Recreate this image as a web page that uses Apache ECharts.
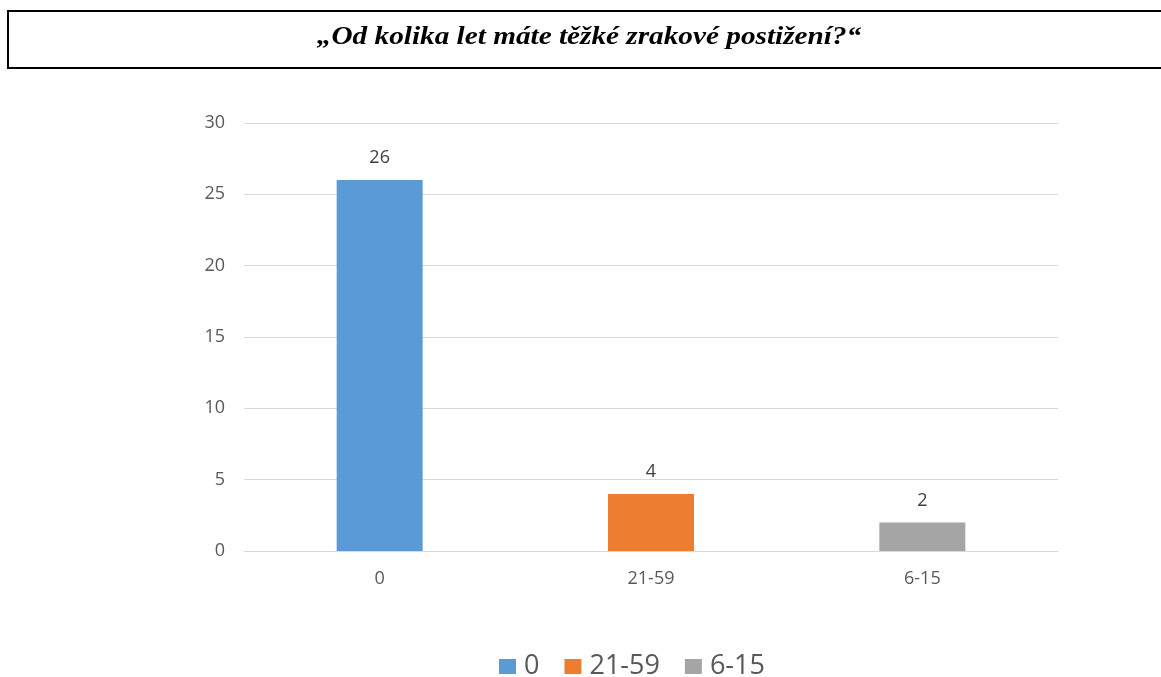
<!DOCTYPE html>
<html>
<head>
<meta charset="utf-8">
<script src="https://cdn.jsdelivr.net/npm/echarts@6/dist/echarts.min.js"></script>
<style>
html,body{margin:0;padding:0;background:#fff;}
#chart{width:1161px;height:677px;}
</style>
</head>
<body>
<div id="chart"></div>
<script>
const titleText = '„Od kolika let máte těžké zrakové postižení?“';
const categories = ['0', '21-59', '6-15'];
const values = [26, 4, 2];
const colors = ['#5b9bd5', '#ed7d31', '#a5a5a5'];
const yTicks = { min: 0, max: 30, interval: 5 };

const chart = echarts.init(document.getElementById('chart'));
const series = categories.map((name, i) => ({
  name: name,
  type: 'bar',
  stack: 'all',
  barWidth: 86,
  data: categories.map((c, j) => (j === i ? values[i] : '-')),
  itemStyle: { color: colors[i] },
  label: {
    show: true,
    position: 'top',
    distance: 13,
    color: '#404040',
    fontSize: 18,
    fontFamily: 'Open Sans'
  }
}));

chart.setOption({
  animation: false,
  backgroundColor: '#fff',
  graphic: [{
    type: 'rect',
    shape: { x: 8, y: 11, width: 1170, height: 57 },
    style: { fill: 'none', stroke: '#000', lineWidth: 2 },
    silent: true
  }, {
    type: 'text',
    x: 589,
    y: 38,
    scaleX: 1.17,
    silent: true,
    style: {
      text: titleText,
      fontFamily: 'Liberation Serif',
      fontStyle: 'italic',
      fontWeight: 'bold',
      fontSize: 25,
      fill: '#000',
      textAlign: 'center',
      textVerticalAlign: 'middle'
    }
  }],
  legend: {
    top: 648,
    left: 494,
    itemWidth: 17,
    itemHeight: 15,
    itemGap: 25,
    icon: 'rect',
    textStyle: { fontSize: 27, color: '#595959', fontFamily: 'Open Sans', padding: [0, 0, 0, 3] },
    data: categories
  },
  grid: { left: 244, right: 103, top: 123, bottom: 126 },
  xAxis: {
    type: 'category',
    data: categories,
    axisLine: { lineStyle: { color: '#d9d9d9', width: 1 } },
    axisTick: { show: false },
    axisLabel: { color: '#595959', fontSize: 18, fontFamily: 'Open Sans', margin: 19 }
  },
  yAxis: {
    type: 'value',
    min: yTicks.min,
    max: yTicks.max,
    interval: yTicks.interval,
    axisLine: { show: false },
    axisTick: { show: false },
    splitLine: { lineStyle: { color: '#d9d9d9' } },
    axisLabel: { color: '#595959', fontSize: 18, fontFamily: 'Open Sans', margin: 19 }
  },
  series: series
});
</script>
</body>
</html>
